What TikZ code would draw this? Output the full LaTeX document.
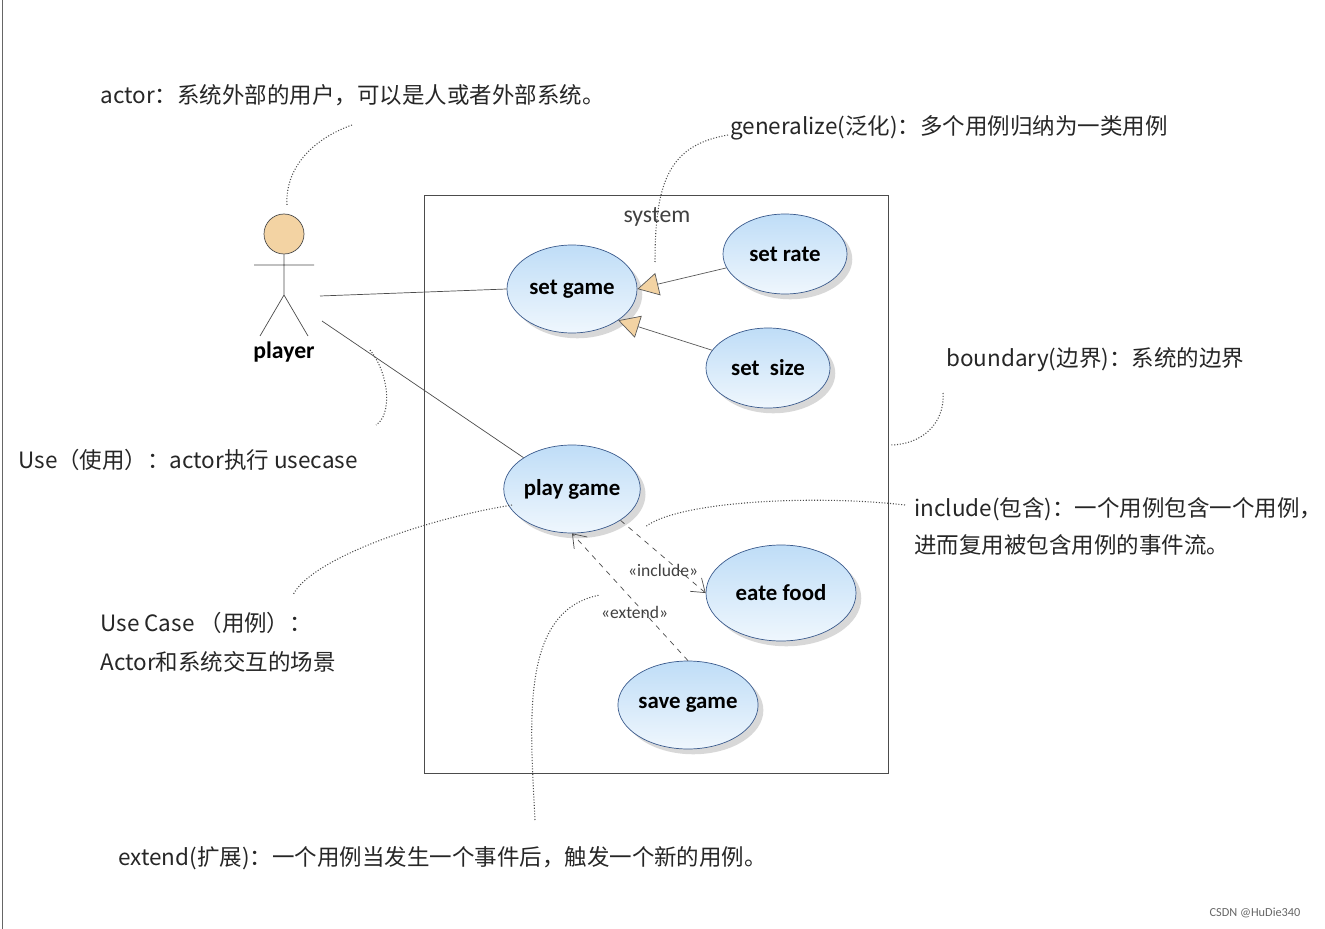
\documentclass[tikz,border=0pt]{standalone}
\usepackage{fontspec}
\setmainfont{Carlito}
\newfontfamily\cjk{Noto Sans CJK SC}
\usetikzlibrary{arrows.meta,shadows,shapes.geometric}
\definecolor{ucfill}{HTML}{BFDDF7}
\definecolor{ucdraw}{HTML}{3A5A8C}
\definecolor{headc}{HTML}{F3D3A3}
\begin{document}
\begin{tikzpicture}[x=0.02cm,y=-0.02cm,
 uc/.style={ellipse,draw=ucdraw,thin,top color=ucfill,bottom color=ucfill!25,shading angle=0,
   drop shadow={shadow xshift=3pt,shadow yshift=-3pt,fill=black!30},font=\fontsize{13}{15}\selectfont\bfseries,inner sep=0pt},
 note/.style={anchor=west,font=\cjk\fontsize{12.8}{15}\selectfont,inner sep=0pt,text=black!85},
 dl/.style={densely dotted,line width=0.6pt,black!70},
 gen/.style={-{Triangle[open,length=12pt,width=13pt,fill=headc]},gray!70!black},
 dep/.style={dashed,gray!60!black,-{Straight Barb[length=7pt,width=10pt]}},
 lab/.style={font=\fontsize{10}{12}\selectfont,inner sep=0pt,text=black!75}]
\useasboundingbox (0,0) rectangle (1325,929);
\draw[black!60] (2,0) -- (2,929);
% actor
\node[circle,draw=black!70,fill=headc,minimum size=40*0.02cm,inner sep=0pt] (head) at (284,234) {};
\coordinate (hip) at (284,295);
\draw[black!70] (head.south) -- (hip) (254,265) -- (314,265) (hip) -- (260,336) (hip) -- (308,336);
\node[font=\fontsize{13.5}{15}\selectfont\bfseries] (player) at (284,352) {player};
\coordinate (a1) at (320,296); \coordinate (a2) at (322,321);
% system
\node[draw=black!70,minimum width=464*0.02cm,minimum height=578*0.02cm,anchor=north west] (sys) at (424,195) {};
\node[font=\fontsize{13.5}{15}\selectfont,text=black!75] (syslab) at (657,217) {system};
% use cases
\node[uc,minimum width=130*0.02cm,minimum height=88*0.02cm] (sg) at (572,289) {set game};
\node[uc,minimum width=124*0.02cm,minimum height=80*0.02cm] (sr) at (785,254) {set rate};
\node[uc,minimum width=124*0.02cm,minimum height=80*0.02cm] (ss) at (768,368) {set~~size};
\node[uc,minimum width=130*0.02cm,minimum height=88*0.02cm] (pg) at (572,489) {play game};
\node[uc,minimum width=150*0.02cm,minimum height=96*0.02cm] (ef) at (781,593) {eate food};
\node[uc,minimum width=130*0.02cm,minimum height=88*0.02cm] (svg) at (688,705) {save game};
% associations
\draw[black!70] (a1) -- (sg.west);
\draw[black!70] (a2) -- (pg.north west);
\draw[gen] (sr) -- (sg.east);
\draw[gen] (ss) -- (sg.south east);
\draw[dep] (pg.south east) -- node[lab,pos=0.5,below=4pt]{«include»} (ef.west);
\draw[dep] (svg.north) -- node[lab,pos=0.38,left=-14pt]{«extend»} (pg.south);
% notes
\node[note] (n1) at (100,95) {actor：系统外部的用户，可以是人或者外部系统。};
\node[note] (n2) at (730,128) {generalize(泛化)：多个用例归纳为一类用例};
\node[note] (n3) at (946,360) {boundary(边界)：系统的边界};
\node[note] (n4) at (18,460) {Use（使用）：actor执行 usecase};
\node[note,align=left,anchor=north west] (n5) at (914,497) {include(包含)：一个用例包含一个用例，\\[6pt]进而复用被包含用例的事件流。};
\node[note,align=left,anchor=north west] (n6) at (100,612) {Use Case （用例）：\\[7pt]Actor和系统交互的场景};
\node[note] (n7) at (118,858) {extend(扩展)：一个用例当发生一个事件后，触发一个新的用例。};
\node[font=\fontsize{7}{8}\selectfont,text=black!60] (wm) at (1255,913) {CSDN @HuDie340};
\draw[dl] (352,125) .. controls (310,140) and (285,170) .. (287,205);
\draw[dl] (728,135) .. controls (670,145) and (655,180) .. (655,262);
\draw[dl] (943,393) .. controls (945,425) and (920,445) .. (890,445);
\draw[dl] (370,350) .. controls (390,375) and (392,415) .. (376,425);
\draw[dl] (905,505) .. controls (820,495) and (680,500) .. (645,527);
\draw[dl] (512,505) .. controls (420,520) and (310,560) .. (293,595);
\draw[dl] (535,820) .. controls (530,720) and (520,610) .. (600,595);
\end{tikzpicture}
\end{document}
